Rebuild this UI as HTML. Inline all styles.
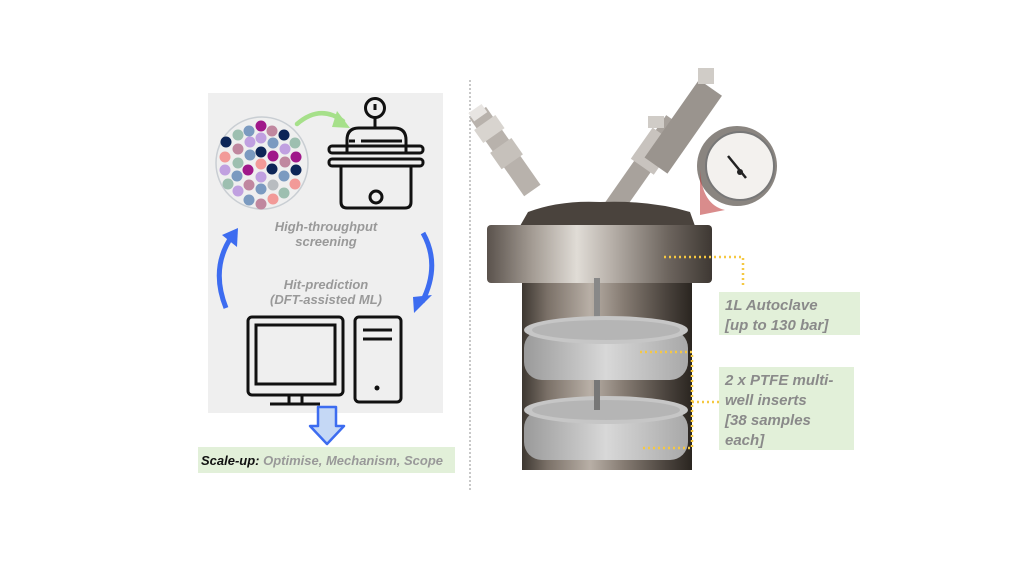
<!DOCTYPE html>
<html><head><meta charset="utf-8"><style>
body{margin:0;width:1024px;height:576px;background:#fff;overflow:hidden;font-family:"Liberation Sans",sans-serif}
</style></head><body>
<svg width="1024" height="576" viewBox="0 0 1024 576" xmlns="http://www.w3.org/2000/svg">
<defs>
<linearGradient id="steel" x1="0" x2="1">
<stop offset="0" stop-color="#5a524c"/><stop offset="0.2" stop-color="#a39b93"/><stop offset="0.4" stop-color="#e0dcd6"/><stop offset="0.55" stop-color="#b8b1aa"/><stop offset="0.8" stop-color="#6e665f"/><stop offset="1" stop-color="#3e3833"/>
</linearGradient>
<linearGradient id="body" x1="0" x2="1">
<stop offset="0" stop-color="#3d3731"/><stop offset="0.15" stop-color="#7b7168"/><stop offset="0.4" stop-color="#b8afa6"/><stop offset="0.6" stop-color="#857b72"/><stop offset="0.85" stop-color="#4a433d"/><stop offset="1" stop-color="#2a2520"/>
</linearGradient>
<linearGradient id="ptfe" x1="0" x2="1">
<stop offset="0" stop-color="#9a9a9a"/><stop offset="0.5" stop-color="#d8d8d8"/><stop offset="1" stop-color="#a8a8a8"/>
</linearGradient>
</defs>

<rect x="208" y="93" width="235" height="320" fill="#efefef"/>

<circle cx="262" cy="163" r="46" fill="#efefef" stroke="#c9ced3" stroke-width="1.5"/>
<g>
<circle cx="261" cy="126" r="5.5" fill="#a0188a"/>
<circle cx="249" cy="131" r="5.5" fill="#7b9ac0"/><circle cx="272" cy="131" r="5.5" fill="#c0879f"/>
<circle cx="238" cy="135" r="5.5" fill="#9dbfb0"/><circle cx="284" cy="135" r="5.5" fill="#0d2557"/>
<circle cx="226" cy="142" r="5.5" fill="#0d2557"/><circle cx="250" cy="142" r="5.5" fill="#c0a0e0"/><circle cx="261" cy="138" r="5.5" fill="#c0a0e0"/><circle cx="273" cy="143" r="5.5" fill="#7b9ac0"/><circle cx="295" cy="143" r="5.5" fill="#9dbfb0"/>
<circle cx="238" cy="149" r="5.5" fill="#c0879f"/><circle cx="261" cy="152" r="5.5" fill="#0d2557"/><circle cx="285" cy="149" r="5.5" fill="#c0a0e0"/>
<circle cx="225" cy="157" r="5.5" fill="#f29a98"/><circle cx="250" cy="155" r="5.5" fill="#7b9ac0"/><circle cx="273" cy="156" r="5.5" fill="#a0188a"/><circle cx="296" cy="157" r="5.5" fill="#a0188a"/>
<circle cx="238" cy="163" r="5.5" fill="#9dbfb0"/><circle cx="261" cy="164" r="5.5" fill="#f29a98"/><circle cx="285" cy="162" r="5.5" fill="#c0879f"/>
<circle cx="225" cy="170" r="5.5" fill="#c0a0e0"/><circle cx="248" cy="170" r="5.5" fill="#a0188a"/><circle cx="272" cy="169" r="5.5" fill="#0d2557"/><circle cx="296" cy="170" r="5.5" fill="#0d2557"/>
<circle cx="237" cy="176" r="5.5" fill="#7b9ac0"/><circle cx="261" cy="177" r="5.5" fill="#c0a0e0"/><circle cx="284" cy="176" r="5.5" fill="#7b9ac0"/>
<circle cx="228" cy="184" r="5.5" fill="#9dbfb0"/><circle cx="249" cy="185" r="5.5" fill="#c0879f"/><circle cx="273" cy="185" r="5.5" fill="#b8bcc0"/><circle cx="295" cy="184" r="5.5" fill="#f29a98"/>
<circle cx="238" cy="191" r="5.5" fill="#c0a0e0"/><circle cx="261" cy="189" r="5.5" fill="#7b9ac0"/><circle cx="284" cy="193" r="5.5" fill="#9dbfb0"/>
<circle cx="249" cy="200" r="5.5" fill="#7b9ac0"/><circle cx="273" cy="199" r="5.5" fill="#f29a98"/>
<circle cx="261" cy="204" r="5.5" fill="#c0879f"/>
</g>

<path d="M297 124 Q320 104 343 121" fill="none" stroke="#a6e08a" stroke-width="4.5" stroke-linecap="round"/>
<path d="M337 111 L350 128 L332 127 Z" fill="#a6e08a"/>

<g fill="none" stroke="#111" stroke-width="3" stroke-linejoin="round">
<circle cx="375" cy="108" r="9.5"/>
<line x1="375" y1="104" x2="375" y2="110"/>
<line x1="375" y1="118" x2="375" y2="128"/>
<path d="M347 152 L347 140 Q347 128 359 128 L394 128 Q406 128 406 140 L406 152"/>
<line x1="349" y1="141" x2="355" y2="141"/><line x1="361" y1="141" x2="402" y2="141"/>
<rect x="329" y="146" width="94" height="7" rx="3"/>
<rect x="329" y="159" width="94" height="7" rx="3"/>
<path d="M341 166 L341 202 Q341 208 347 208 L405 208 Q411 208 411 202 L411 166"/>
<circle cx="376" cy="197" r="6"/>
</g>

<g font-style="italic" font-weight="bold" font-size="13" fill="#999" text-anchor="middle">
<text x="326" y="231">High-throughput</text>
<text x="326" y="246">screening</text>
<text x="326" y="289">Hit-prediction</text>
<text x="326" y="304">(DFT-assisted ML)</text>
</g>

<path d="M226 308 Q210 268 232 236" fill="none" stroke="#3d6cf0" stroke-width="5"/>
<path d="M222 235 L238 228 L237 247 Z" fill="#3d6cf0"/>
<path d="M423 233 Q441 265 422 302" fill="none" stroke="#3d6cf0" stroke-width="5"/>
<path d="M413 297 L432 295 L414 313 Z" fill="#3d6cf0"/>

<g fill="none" stroke="#111" stroke-width="3">
<rect x="248" y="317" width="95" height="78" rx="4"/>
<rect x="256" y="325" width="79" height="59"/>
<line x1="289" y1="395" x2="289" y2="404"/><line x1="302" y1="395" x2="302" y2="404"/>
<line x1="270" y1="404" x2="320" y2="404"/>
<rect x="355" y="317" width="46" height="85" rx="4"/>
<line x1="363" y1="330" x2="392" y2="330"/><line x1="363" y1="339" x2="392" y2="339"/>
</g>
<circle cx="377" cy="388" r="2.5" fill="#111"/>

<path d="M318 407 L336 407 L336 426 L344 426 L327 444 L310 426 L318 426 Z" fill="#c5d8f5" stroke="#3d6cf0" stroke-width="2.5" stroke-linejoin="round"/>

<rect x="198" y="447" width="257" height="26" fill="#e2f0d9"/>
<text x="201" y="465" font-style="italic" font-weight="bold" font-size="13"><tspan fill="#111">Scale-up:</tspan><tspan fill="#999"> Optimise, Mechanism, Scope</tspan></text>

<line x1="470" y1="80" x2="470" y2="490" stroke="#aaa" stroke-width="1.3" stroke-dasharray="2,2"/>

<g>
<g transform="rotate(-35 518 170)">
<rect x="508" y="100" width="20" height="95" fill="#b8b2ac"/>
<rect x="505" y="112" width="26" height="16" fill="#d8d4cf"/>
<rect x="505" y="140" width="26" height="20" fill="#c6c1bb"/>
<rect x="510" y="95" width="16" height="10" fill="#e8e5e2"/>
</g>
<g transform="rotate(35 640 170)">
<rect x="630" y="110" width="20" height="110" fill="#a8a29c"/>
<rect x="626" y="128" width="28" height="38" fill="#c8c3be"/>
</g>
<g transform="rotate(35 690 110)">
<rect x="680" y="80" width="28" height="95" fill="#9a948e"/>
</g>
<rect x="698" y="68" width="16" height="16" fill="#d0ccc7"/>
<rect x="648" y="116" width="16" height="12" fill="#d0ccc7"/>
<circle cx="737" cy="166" r="40" fill="#8a8580"/>
<circle cx="740" cy="166" r="34" fill="#f3f1ee" stroke="#777" stroke-width="2"/>
<line x1="728" y1="156" x2="746" y2="178" stroke="#222" stroke-width="2.5"/>
<circle cx="740" cy="172" r="3" fill="#222"/>
<path d="M700 170 Q702 205 725 210 L700 215 Z" fill="#c04040" opacity="0.6"/>
<path d="M520 226 L528 212 Q560 200 600 202 Q650 200 690 212 L695 226 Z" fill="#4a433d"/>
<rect x="487" y="225" width="225" height="58" rx="4" fill="url(#steel)"/>
<rect x="522" y="283" width="170" height="187" fill="url(#body)"/>
<line x1="597" y1="278" x2="597" y2="420" stroke="#888" stroke-width="6"/>
<rect x="524" y="330" width="164" height="50" rx="18" fill="url(#ptfe)"/>
<ellipse cx="606" cy="330" rx="82" ry="14" fill="#c6c6c6"/>
<ellipse cx="606" cy="330" rx="74" ry="10" fill="#aaa" opacity="0.6"/>
<rect x="524" y="410" width="164" height="50" rx="18" fill="url(#ptfe)"/>
<ellipse cx="606" cy="410" rx="82" ry="14" fill="#c6c6c6"/>
<ellipse cx="606" cy="410" rx="74" ry="10" fill="#aaa" opacity="0.6"/>
<line x1="597" y1="380" x2="597" y2="410" stroke="#777" stroke-width="6"/>
</g>

<g fill="none" stroke="#f5c842" stroke-width="2.5" stroke-dasharray="2,3">
<polyline points="664,257 743,257 743,285"/>
<polyline points="640,352 692,352 692,448 640,448"/>
<line x1="692" y1="402" x2="720" y2="402"/>
</g>

<rect x="719" y="292" width="141" height="43" fill="#e2f0d9"/>
<rect x="719" y="367" width="135" height="83" fill="#e2f0d9"/>
<g font-style="italic" font-weight="bold" font-size="15" fill="#8a8a8a">
<text x="725" y="310">1L Autoclave</text>
<text x="725" y="330">[up to 130 bar]</text>
<text x="725" y="385">2 x PTFE multi-</text>
<text x="725" y="405">well inserts</text>
<text x="725" y="425">[38 samples</text>
<text x="725" y="445">each]</text>
</g>
</svg>
</body></html>
